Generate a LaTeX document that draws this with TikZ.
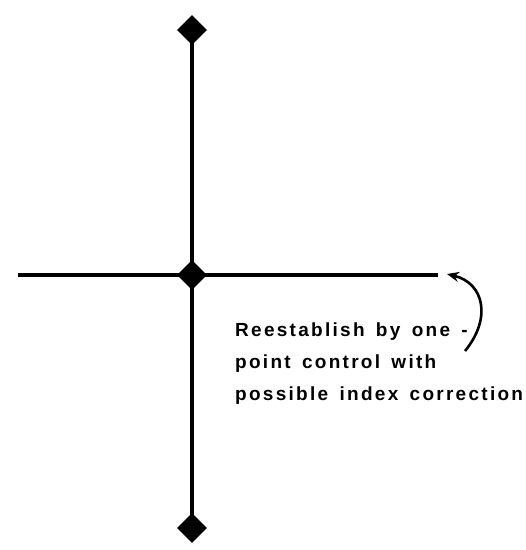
\documentclass[tikz,border=0pt]{standalone}
\usepackage{fontspec}
\setmainfont{Liberation Sans}
\newfontfamily\notefont{Liberation Sans}[LetterSpace=12, WordSpace=1.5]
\usepackage{tikz}
\usetikzlibrary{calc, positioning, shapes.geometric, arrows.meta}

\tikzset{
    station/.style={diamond, fill=black, inner sep=0pt, minimum size=30pt},
    traverse/.style={line width=3.8pt},
    note/.style={align=left, anchor=north west, inner sep=0pt,
        font=\notefont\fontsize{19}{32}\selectfont\bfseries}
}

\begin{document}
\begin{tikzpicture}[x=1pt, y=-1pt]
                \useasboundingbox (0,0) rectangle (526,550);
                
                \node[station] (top) at (192,30) {};
                \node[station] (mid) at (192,275) {};
                \node[station] (bot) at (192,528) {};
                \coordinate (west) at (18,275);
                \coordinate (east) at (438,275);
                
                \draw[traverse] (top.center) -- (bot.center);
                \draw[traverse] (west) -- (east);
                
                \node[note] (text) at (235,323) {Reestablish by one -\\point control with\\possible index correction};
                
                \coordinate (foot) at (465,351);
                \coordinate (tip) at (447,274);
                \draw[line width=2.6pt, -{Stealth[length=12pt, width=10pt]}]
                    (foot) .. controls (492,318) and (484,283) .. (tip);
            \end{tikzpicture}
\end{document}
